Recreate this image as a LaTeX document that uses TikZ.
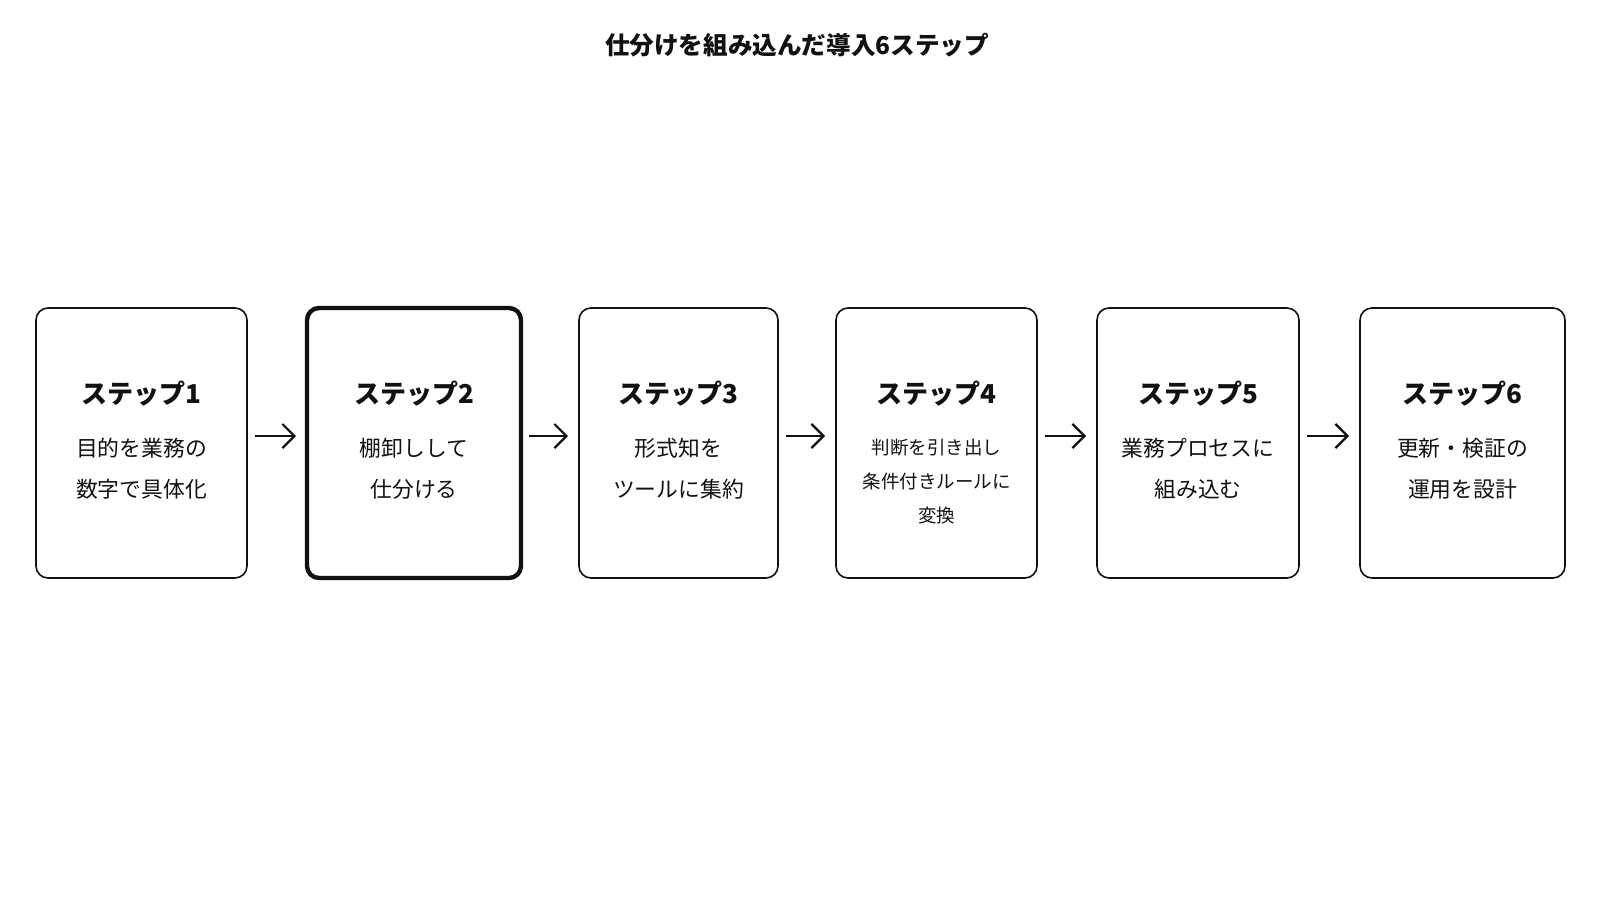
\documentclass[tikz,border=0pt]{standalone}
\usepackage{fontspec}
\setmainfont{Noto Sans CJK JP}
\definecolor{Ink}{RGB}{17, 17, 17}
\usetikzlibrary{arrows.meta, positioning}

\begin{document}
\begin{tikzpicture}[x=1pt, y=-1pt,
                node distance=58pt,
                stepbox/.style={rectangle, draw=Ink, line width=1.6pt, rounded corners=12pt,
                                minimum height=270pt, inner sep=0pt, outer sep=0pt},
                hot/.style={line width=4.4pt},
                head/.style={font=\bfseries\fontsize{26}{30}\selectfont, text=Ink, inner sep=0pt},
                body/.style={font=\fontsize{21.8}{41}\selectfont, text=Ink, align=center,
                             inner sep=0pt, anchor=north},
                arr/.style={-{Straight Barb[length=12pt, width=24pt]}, Ink, line width=2.2pt,
                            shorten <=8pt, shorten >=11pt}
            ]
                \fill[white] (0,0) rectangle (1600,900);
                \useasboundingbox (0,0) rectangle (1600,900);

                \node[font=\bfseries\fontsize{24.6}{28}\selectfont, text=Ink] (title) at (797,45) {仕分けを組み込んだ導入6ステップ};

                \node[stepbox, minimum width=211pt] (s1) at (141.5,443) {};
                \node[stepbox, hot, minimum width=214pt, right=60pt of s1] (s2) {};
                \node[stepbox, minimum width=199pt, right=of s2] (s3) {};
                \node[stepbox, minimum width=201pt, right=of s3] (s4) {};
                \node[stepbox, minimum width=202pt, right=60pt of s4] (s5) {};
                \node[stepbox, minimum width=205pt, right=61pt of s5] (s6) {};

                \node[head] (h1) at ([yshift=49pt]s1.center) {ステップ1};
                \node[head] (h2) at ([yshift=49pt]s2.center) {ステップ2};
                \node[head] (h3) at ([yshift=49pt]s3.center) {ステップ3};
                \node[head] (h4) at ([yshift=49pt]s4.center) {ステップ4};
                \node[head] (h5) at ([yshift=49pt]s5.center) {ステップ5};
                \node[head] (h6) at ([yshift=49pt]s6.center) {ステップ6};

                \node[body] (b1) at ([yshift=5pt]s1.center) {目的を業務の\\数字で具体化};
                \node[body] (b2) at ([yshift=5pt]s2.center) {棚卸しして\\仕分ける};
                \node[body] (b3) at ([yshift=5pt]s3.center) {形式知を\\ツールに集約};
                \node[body, font=\fontsize{18.5}{34}\selectfont] (b4) at ([yshift=4pt]s4.center) {判断を引き出し\\条件付きルールに\\変換};
                \node[body] (b5) at ([yshift=5pt]s5.center) {業務プロセスに\\組み込む};
                \node[body] (b6) at ([yshift=5pt]s6.center) {更新・検証の\\運用を設計};

                \draw[arr] ([yshift=7pt]s1.east) -- ([yshift=7pt]s2.west);
                \draw[arr] ([yshift=7pt]s2.east) -- ([yshift=7pt]s3.west);
                \draw[arr] ([yshift=7pt]s3.east) -- ([yshift=7pt]s4.west);
                \draw[arr] ([yshift=7pt]s4.east) -- ([yshift=7pt]s5.west);
                \draw[arr] ([yshift=7pt]s5.east) -- ([yshift=7pt]s6.west);
            \end{tikzpicture}
\end{document}
